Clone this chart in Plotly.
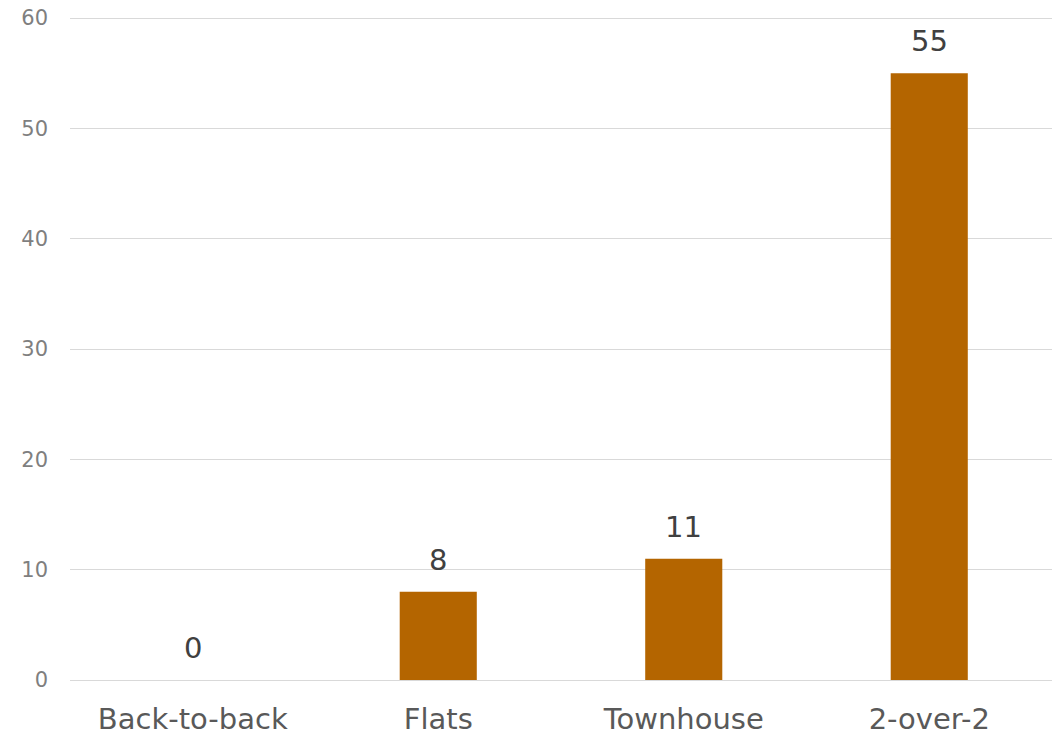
import plotly.graph_objects as go

categories = ["Back-to-back", "Flats", "Townhouse", "2-over-2"]
values = [0, 8, 11, 55]
y_ticks = [0, 10, 20, 30, 40, 50, 60]

fig = go.Figure(go.Bar(
    x=categories, y=values,
    marker=dict(color="#B46500", line=dict(width=0)),
    hoverinfo="x+y",
))
for c, v in zip(categories, values):
    fig.add_annotation(x=c, y=v, text=str(v), showarrow=False, yanchor="bottom", yshift=13,
                       font=dict(family="DejaVu Sans", size=29, color="#404040"))
fig.update_layout(
    width=1060, height=737,
    margin=dict(l=62, r=16, t=9, b=65, autoexpand=False),
    paper_bgcolor="white", plot_bgcolor="white",
    bargap=0.686, showlegend=False,
    font=dict(family="DejaVu Sans"),
)
fig.update_yaxes(range=[0, 60.1], tickvals=y_ticks, showgrid=True, gridcolor="#D9D9D9", gridwidth=1.3,
                 zeroline=True, zerolinecolor="#D9D9D9", zerolinewidth=1.3,
                 tickfont=dict(size=21, color="#7F7F7F"), ticks="", ticklabelstandoff=21,
                 ticklabeloverflow="allow", automargin=False)
fig.update_xaxes(tickfont=dict(size=29, color="#595959"), ticks="", showline=False, ticklabelstandoff=19,
                 ticklabeloverflow="allow", automargin=False)
fig.write_html("out.html")
